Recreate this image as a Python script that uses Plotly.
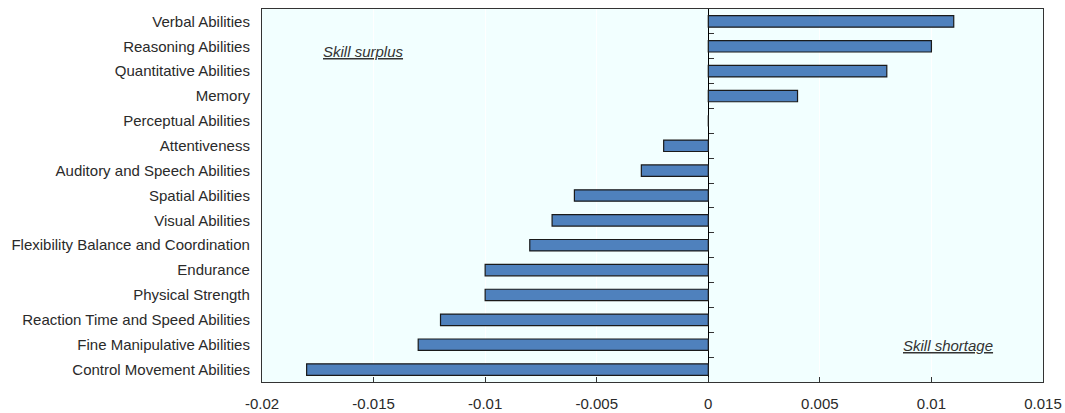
import plotly.graph_objects as go

skills = [
    "Verbal Abilities", "Reasoning Abilities", "Quantitative Abilities", "Memory",
    "Perceptual Abilities", "Attentiveness", "Auditory and Speech Abilities",
    "Spatial Abilities", "Visual Abilities", "Flexibility Balance and Coordination",
    "Endurance", "Physical Strength", "Reaction Time and Speed Abilities",
    "Fine Manipulative Abilities", "Control Movement Abilities",
]
values = [0.011, 0.010, 0.008, 0.004, 0.0, -0.002, -0.003, -0.006, -0.007,
          -0.008, -0.010, -0.010, -0.012, -0.013, -0.018]
x_ticks = [-0.02, -0.015, -0.01, -0.005, 0, 0.005, 0.01, 0.015]
x_ticktext = ["-0.02", "-0.015", "-0.01", "-0.005", "0", "0.005", "0.01", "0.015"]

# bottom-up order so Verbal sits at the top
skills_r = skills[::-1]
values_r = values[::-1]
n = len(skills)

fig = go.Figure()

fig.add_trace(go.Bar(
    x=values_r, y=list(range(n)), orientation="h",
    marker=dict(color="#4F81BD", line=dict(color="#1a1a1a", width=1.2)),
    width=0.46, showlegend=False, hoverinfo="x",
))

# invisible trace so the zero-line tick axis gets drawn
fig.add_trace(go.Scatter(x=[0], y=[0], yaxis="y2", mode="markers",
                         marker=dict(opacity=0), showlegend=False, hoverinfo="skip"))

zero_pos = (0 - x_ticks[0]) / (x_ticks[-1] - x_ticks[0])

fig.update_layout(
    width=1065, height=413,
    margin=dict(l=262, r=22, t=9, b=31, autoexpand=False),
    paper_bgcolor="white",
    plot_bgcolor="#F2FFFF",
    font=dict(family="Liberation Sans, Arial, sans-serif", size=15, color="#2a2a2a"),
    xaxis=dict(
        range=[x_ticks[0], x_ticks[-1]], tickvals=x_ticks, ticktext=x_ticktext,
        ticks="inside", ticklen=5, tickcolor="#333333", tickwidth=1,
        showgrid=True, gridcolor="#FFFFFF", gridwidth=1,
        zeroline=True, zerolinecolor="#000000", zerolinewidth=1,
        showline=True, linecolor="#333333", linewidth=1.2, mirror=True,
        tickfont=dict(size=15), ticklabeloverflow="allow", automargin=False,
        ticklabelstandoff=8,
    ),
    yaxis=dict(
        range=[-0.5, n - 0.5], tickvals=list(range(n)), ticktext=skills_r,
        ticks="outside", ticklen=8, tickcolor="rgba(0,0,0,0)",
        showgrid=False, zeroline=False, automargin=False,
        showline=True, linecolor="#333333", linewidth=1.2, mirror=True,
        tickfont=dict(size=15),
    ),
    yaxis2=dict(
        overlaying="y", anchor="free", position=zero_pos, side="right",
        range=[-0.5, n - 0.5], tickvals=[i + 0.5 for i in range(n - 1)],
        ticks="outside", ticklen=5, tickcolor="#333333", tickwidth=1, automargin=False,
        showticklabels=False, showgrid=False, zeroline=False, showline=False,
    ),
    annotations=[
        dict(x=-0.01734, y=n - 2.2, xref="x", yref="y", text="<i><u>Skill surplus</u></i>",
             showarrow=False, xanchor="left", font=dict(size=15, color="#333333")),
        dict(x=0.00865, y=0.95, xref="x", yref="y", text="<i><u>Skill shortage</u></i>",
             showarrow=False, xanchor="left", font=dict(size=15, color="#333333")),
    ],
)

fig.write_html("out.html", config={"displayModeBar": False},
               post_script="document.body.style.margin='0';document.body.style.overflow='hidden';")
